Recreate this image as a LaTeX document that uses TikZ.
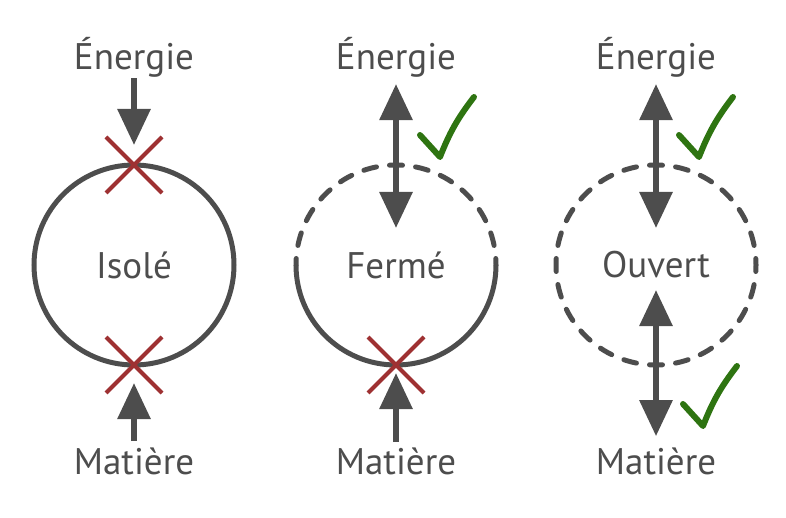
\documentclass[tikz,border=0pt]{standalone}
\usepackage{fontspec}
\setmainfont{PT Sans}
\usetikzlibrary{positioning, arrows.meta, shapes.misc}

\definecolor{encre}{HTML}{4D4D4D}
\definecolor{rouge}{HTML}{9E3132}
\definecolor{vert}{HTML}{2E7411}

\tikzset{
  pics/coche/.style={code={
      \draw[tick] (-20,-22) -- (0,0) to[bend left=8] (34,-60);
  }}
}

\begin{document}
\begin{tikzpicture}[
                    x=1pt, y=-1pt,
                    every node/.style={font=\fontsize{37}{40}\selectfont, text=encre, inner sep=0pt},
                    mot/.style={anchor=base},
                    systeme/.style={circle, minimum size=200pt, outer sep=0pt, line width=5pt},
                    plein/.style={draw=encre, line width=5pt},
                    pointille/.style={draw=encre, line width=5pt, line cap=round,
                                      dash pattern=on 13pt off 13.18pt, dash phase=6.5pt},
                    flux/.style={draw=encre, line width=6pt, -{Triangle[length=36pt,width=32pt]}},
                    echange/.style={flux, {Triangle[length=36pt,width=32pt]}-{Triangle[length=36pt,width=32pt]}},
                    barre/.style={cross out, draw=rouge, line width=4pt, minimum size=52pt},
                    tick/.style={draw=vert, line width=6pt, line cap=round, line join=round}
                ]
  \useasboundingbox (0,0) rectangle (786,518);

  % isole
  \node[systeme, plein] (isole) at (134,265) {Isolé};
  \node[mot] (e1) at (134,70) {Énergie};
  \node[mot] (m1) at (134,474) {Matière};
  \coordinate (p1) at (134,145);
  \coordinate (p2) at (134,383);
  \draw[flux] (e1.south) -- (p1);
  \draw[flux, shorten <=6pt] (m1.north) -- (p2);
  \node[barre] (x1) at (isole.north) {};
  \node[barre] (x2) at (isole.south) {};

  % ferme
  \node[systeme] (ferme) at (396,265) {Fermé};
  \draw[pointille] (ferme.east) arc[start angle=0, end angle=-180, radius=100];
  \draw[plein] (ferme.east) arc[start angle=0, end angle=180, radius=100];
  \node[mot] (e2) at (396,70) {Énergie};
  \node[mot] (m2) at (396,474) {Matière};
  \coordinate (p3) at (396,228);
  \coordinate (p4) at (396,373);
  \draw[echange, shorten <=6pt] (e2.south) -- (p3);
  \draw[flux, shorten <=5pt] (m2.north) -- (p4);
  \node[barre] (x3) at (ferme.south) {};
  \pic at (440,157) {coche};

  % ouvert
  \node[systeme, pointille] (ouvert) at (656,265) {Ouvert};
  \node[mot] (e3) at (656,70) {Énergie};
  \node[mot] (m3) at (656,474) {Matière};
  \coordinate (p5) at (656,228);
  \coordinate (p6) at (656,290);
  \draw[echange, shorten <=6pt] (e3.south) -- (p5);
  \draw[echange, shorten >=11pt] (p6) -- (m3.north);
  \pic at (699,157) {coche};
  \pic at (703,426) {coche};
\end{tikzpicture}
\end{document}
